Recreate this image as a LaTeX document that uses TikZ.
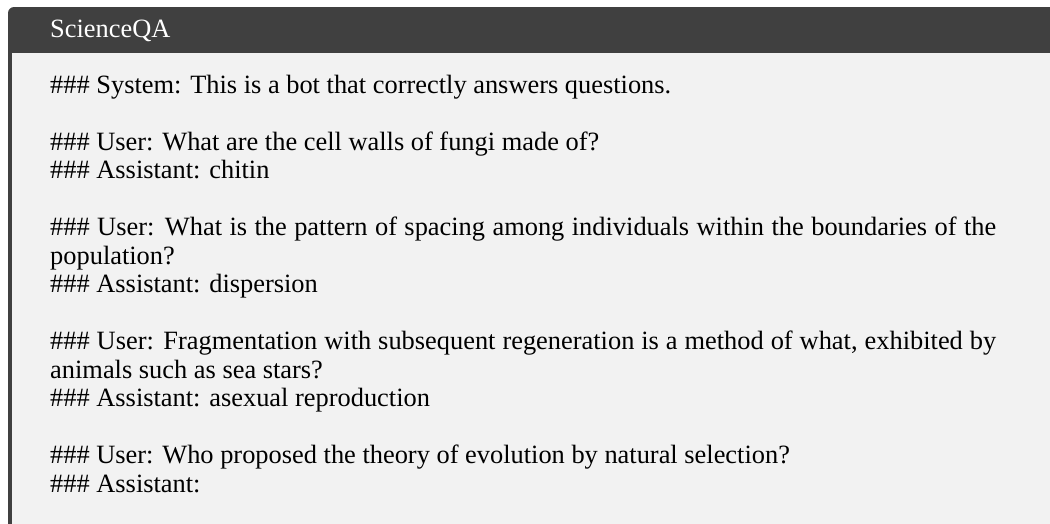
\documentclass[tikz,border=0pt]{standalone}
\usepackage{fontspec}
\setmainfont{Liberation Serif}
\definecolor{hdr}{HTML}{404040}
\definecolor{bodybg}{HTML}{F2F2F2}
\begin{document}
\begin{tikzpicture}[x=1pt,y=-1pt,
  txt/.style={anchor=base west, inner sep=0pt, font=\fontsize{26.4}{28.5}\selectfont},
  ttl/.style={txt, text=white}]
\useasboundingbox (0,0) rectangle (1050,523);
\clip (0,0) rectangle (1050,523);
\fill[hdr, rounded corners=6pt] (8,7) rectangle (1075,530);
\fill[bodybg] (12,53) rectangle (1071,526);
\node[ttl] (title) at (50,37) {ScienceQA};
\node[txt] (l1) at (50,93) {\#\#\# System: This is a bot that correctly answers questions.};
\node[txt] (l2) at (50,150) {\#\#\# User: What are the cell walls of fungi made of?};
\node[txt] (l3) at (50,178.5) {\#\#\# Assistant: chitin};
\node[txt] (l4) at (50,235.5) {\makebox[946pt][s]{\#\#\# User: What is the pattern of spacing among individuals within the boundaries of the}};
\node[txt] (l5) at (50,264) {population?};
\node[txt] (l6) at (50,292.5) {\#\#\# Assistant: dispersion};
\node[txt] (l7) at (50,349.5) {\makebox[946pt][s]{\#\#\# User: Fragmentation with subsequent regeneration is a method of what, exhibited by}};
\node[txt] (l8) at (50,378) {animals such as sea stars?};
\node[txt] (l9) at (50,406.5) {\#\#\# Assistant: asexual reproduction};
\node[txt] (l10) at (50,463.5) {\#\#\# User: Who proposed the theory of evolution by natural selection?};
\node[txt] (l11) at (50,492) {\#\#\# Assistant:};
\end{tikzpicture}
\end{document}
